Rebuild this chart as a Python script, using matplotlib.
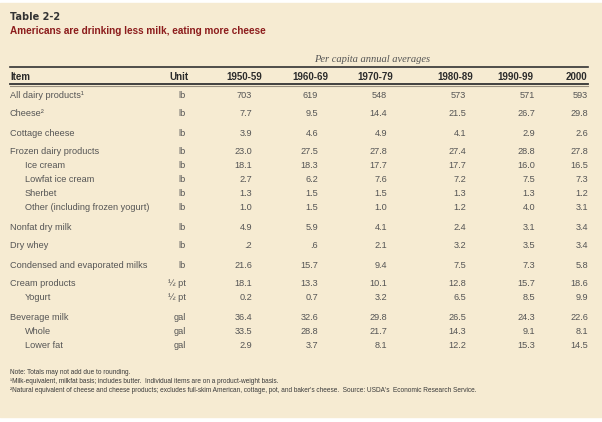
import matplotlib
matplotlib.use("Agg")
import matplotlib.pyplot as plt
from matplotlib import font_manager

# data
items = ["All dairy products", "Cheese", "Cottage cheese", "Frozen dairy products",
         "Ice cream", "Lowfat ice cream", "Sherbet", "Other (including frozen yogurt)",
         "Nonfat dry milk", "Dry whey", "Condensed and evaporated milks",
         "Cream products", "Yogurt", "Beverage milk", "Whole", "Lower fat"]
notes = ["¹", "²", "", "", "", "", "", "", "", "", "", "", "", "", "", ""]
units = ["lb", "lb", "lb", "lb", "lb", "lb", "lb", "lb", "lb", "lb", "lb",
         "½ pt", "½ pt", "gal", "gal", "gal"]
sub_items = ["Ice cream", "Lowfat ice cream", "Sherbet", "Other (including frozen yogurt)",
             "Yogurt", "Whole", "Lower fat"]
periods = ["1950-59", "1960-69", "1970-79", "1980-89", "1990-99", "2000"]

v1950 = ["703", "7.7", "3.9", "23.0", "18.1", "2.7", "1.3", "1.0", "4.9", ".2", "21.6", "18.1", "0.2", "36.4", "33.5", "2.9"]
v1960 = ["619", "9.5", "4.6", "27.5", "18.3", "6.2", "1.5", "1.5", "5.9", ".6", "15.7", "13.3", "0.7", "32.6", "28.8", "3.7"]
v1970 = ["548", "14.4", "4.9", "27.8", "17.7", "7.6", "1.5", "1.0", "4.1", "2.1", "9.4", "10.1", "3.2", "29.8", "21.7", "8.1"]
v1980 = ["573", "21.5", "4.1", "27.4", "17.7", "7.2", "1.3", "1.2", "2.4", "3.2", "7.5", "12.8", "6.5", "26.5", "14.3", "12.2"]
v1990 = ["571", "26.7", "2.9", "28.8", "16.0", "7.5", "1.3", "4.0", "3.1", "3.5", "7.3", "15.7", "8.5", "24.3", "9.1", "15.3"]
v2000 = ["593", "29.8", "2.6", "27.8", "16.5", "7.3", "1.2", "3.1", "3.4", "3.4", "5.8", "18.6", "9.9", "22.6", "8.1", "14.5"]
columns = [v1950, v1960, v1970, v1980, v1990, v2000]

footnotes = [
    "Note: Totals may not add due to rounding.",
    "¹Milk-equivalent, milkfat basis; includes butter.  Individual items are on a product-weight basis.",
    "²Natural equivalent of cheese and cheese products; excludes full-skim American, cottage, pot, and baker's cheese.  Source: USDA's  Economic Research Service.",
]

# fonts
names = {f.name for f in font_manager.fontManager.ttflist}
narrow = "Liberation Sans Narrow" if "Liberation Sans Narrow" in names else "Liberation Sans"
fam = [narrow, "DejaVu Sans"]

W, H = 602, 422
fig = plt.figure(figsize=(W / 100, H / 100), dpi=100)
fig.patch.set_facecolor("white")
ax = fig.add_axes([0, 0, 1, 1])
ax.set_xlim(0, W)
ax.set_ylim(H, 0)
ax.axis("off")

bg = "#f6ebd2"
ax.add_patch(plt.Rectangle((0, 3), W, 414, color=bg, zorder=0))

dark = "#2b2b2b"
grey = "#555555"

ax.text(10, 17, "Table 2-2", fontsize=7.0, fontweight="bold", color="#333333",
        family="DejaVu Sans", va="center")
ax.text(10, 31, "Americans are drinking less milk, eating more cheese", fontsize=7.2,
        fontweight="bold", color="#8c1c1c", family=fam, va="center")
ax.text(314, 59.5, "Per capita annual averages", fontsize=7.6, style="italic",
        color="#555555", family="Liberation Serif", va="center")

# rules
ax.plot([10, 588], [66.5, 66.5], color="#333333", lw=1.2)
ax.plot([10, 588], [84, 84], color="#333333", lw=1.3)
ax.plot([10, 588], [86.3, 86.3], color="#9a9080", lw=0.8)

# header
hdr_y = 77
col_x = [262, 328, 393, 473, 533, 587]
val_x = [252, 318, 387, 466, 535, 588]
ax.text(10, hdr_y, "Item", fontsize=7.0, fontweight="bold", color=dark, family=fam, va="center")
ax.text(189, hdr_y, "Unit", fontsize=7.0, fontweight="bold", color=dark, family=fam,
        va="center", ha="right")
for x, p in zip(col_x, periods):
    ax.text(x, hdr_y, p, fontsize=7.0, fontweight="bold", color=dark, family=fam,
            va="center", ha="right")

# row positions: 14 px inside a group, 19 px between groups
y = 95
for i, item in enumerate(items):
    if i > 0:
        y += 14 if item in sub_items else 19
    x0 = 25 if item in sub_items else 10
    ax.text(x0, y, item + notes[i], fontsize=6.6, color=grey, family=fam, va="center")
    ax.text(186, y, units[i], fontsize=6.6, color=grey, family=fam, va="center", ha="right")
    for x, col in zip(val_x, columns):
        ax.text(x, y, col[i], fontsize=6.6, color=grey, family=fam, va="center", ha="right")

for k, note in enumerate(footnotes):
    ax.text(10, 372 + 9.5 * k, note, fontsize=4.7, color="#3a3a3a", family=fam, va="center")

fig.savefig("out.png", dpi=100, facecolor="white")
